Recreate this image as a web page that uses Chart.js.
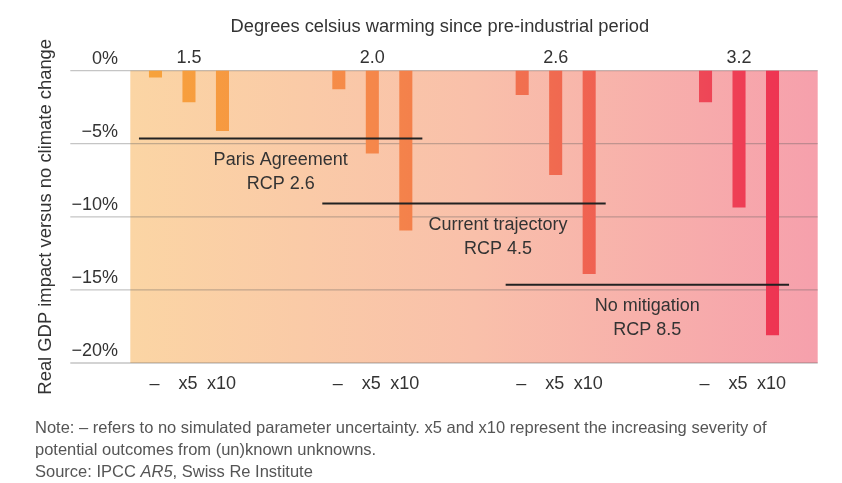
<!DOCTYPE html>
<html>
<head>
<meta charset="utf-8">
<script src="https://cdn.jsdelivr.net/npm/chart.js@4.4.1/dist/chart.umd.min.js"></script>
<style>
  html, body { margin: 0; padding: 0; background: #ffffff; }
  #wrap { position: relative; width: 842px; height: 483px; }
  #note {
    position: absolute; left: 35px; top: 416px;
    font-family: "Liberation Sans", Arial, sans-serif; font-size: 16.5px;
    line-height: 22px; color: #555555; white-space: nowrap;
  }
</style>
</head>
<body>
<div id="wrap">
  <canvas id="c" width="842" height="483"></canvas>
  <div id="note">Note: – refers to no simulated parameter uncertainty. x5 and x10 represent the increasing severity of<br>potential outcomes from (un)known unknowns.<br>Source: IPCC <i>AR5</i>, Swiss Re Institute</div>
</div>
<script>
// ---- data ----
const categories = ['1.5', '2.0', '2.6', '3.2'];
const severityLabels = ['–', 'x5', 'x10'];
const impactNone = [-0.47, -1.27, -1.67, -2.17];
const impactX5 = [-2.17, -5.67, -7.14, -9.36];
const impactX10 = [-4.14, -10.94, -13.92, -18.1];
const yTickValues = [0, -5, -10, -15, -20];
const scenarioNames = ['Paris Agreement', 'Current trajectory', 'No mitigation'];
const scenarioRcp = ['RCP 2.6', 'RCP 4.5', 'RCP 8.5'];
const scenarioValues = [-4.65, -9.1, -14.65];
const scenarioFromGroup = [0, 1, 2];
const scenarioToGroup = [1, 2, 3];

const FONT = '"Liberation Sans", Arial, sans-serif';
const TEXT = '#333333';

function barGradient(context) {
  const chart = context.chart;
  const a = chart.chartArea;
  if (!a) return '#F5874A';
  const g = chart.ctx.createLinearGradient(a.left, 0, a.right, 0);
  g.addColorStop(0.0, '#F8A83A');
  g.addColorStop(0.079, '#F7A23C');
  g.addColorStop(0.375, '#F5874A');
  g.addColorStop(0.625, '#F06A50');
  g.addColorStop(0.829, '#EE4757');
  g.addColorStop(0.92, '#EE3552');
  g.addColorStop(1.0, '#EE3050');
  return g;
}

const decorPlugin = {
  id: 'decor',
  beforeDatasetsDraw(chart) {
    const { ctx, chartArea: a, scales: { y } } = chart;
    const left = a.left + 33, right = a.right - 13;
    ctx.save();
    const g = ctx.createLinearGradient(left, 0, right, 0);
    g.addColorStop(0, '#FBD5A4');
    g.addColorStop(0.5, '#F9C0AA');
    g.addColorStop(1, '#F6A0AC');
    ctx.fillStyle = g;
    ctx.fillRect(left, a.top, right - left, a.bottom - a.top);
    ctx.strokeStyle = 'rgba(95,95,95,0.36)';
    ctx.lineWidth = 1.3;
    y.ticks.forEach(t => {
      const py = y.getPixelForValue(t.value);
      ctx.beginPath();
      ctx.moveTo(a.left - 27, py);
      ctx.lineTo(right, py);
      ctx.stroke();
    });
    ctx.restore();
  },
  afterDatasetsDraw(chart) {
    const { ctx, chartArea: a, scales: { y } } = chart;
    const shift = [0, 34, 0];
    ctx.save();
    // severity labels under every bar
    ctx.fillStyle = TEXT;
    ctx.font = '18px ' + FONT;
    ctx.textAlign = 'center';
    ctx.textBaseline = 'middle';
    chart.data.datasets.forEach((ds, d) => {
      chart.getDatasetMeta(d).data.forEach(bar => {
        ctx.fillText(severityLabels[d], bar.x - 1, a.bottom + 21);
      });
    });
    // scenario lines + labels
    scenarioValues.forEach((v, s) => {
      const b0 = chart.getDatasetMeta(0).data[scenarioFromGroup[s]];
      const b1 = chart.getDatasetMeta(2).data[scenarioToGroup[s]];
      const x0 = b0.x - b0.width / 2 - 10;
      const x1 = b1.x + b1.width / 2 + 10;
      const py = y.getPixelForValue(v);
      ctx.strokeStyle = '#222222';
      ctx.lineWidth = 2;
      ctx.beginPath();
      ctx.moveTo(x0, py);
      ctx.lineTo(x1, py);
      ctx.stroke();
      const cx = (x0 + x1) / 2 + shift[s];
      ctx.fillStyle = TEXT;
      ctx.fillText(scenarioNames[s], cx, py + 21);
      ctx.fillText(scenarioRcp[s], cx, py + 45);
    });
    ctx.restore();
  }
};

new Chart(document.getElementById('c'), {
  type: 'bar',
  data: {
    labels: categories,
    datasets: [
      { label: severityLabels[0], data: impactNone, backgroundColor: barGradient },
      { label: severityLabels[1], data: impactX5, backgroundColor: barGradient },
      { label: severityLabels[2], data: impactX10, backgroundColor: barGradient }
    ]
  },
  options: {
    responsive: false,
    animation: false,
    devicePixelRatio: 1,
    categoryPercentage: 0.548,
    barPercentage: 0.39,
    layout: { padding: { left: 49, right: 11.3, top: 0, bottom: 120 } },
    plugins: {
      legend: { display: false },
      tooltip: { enabled: false },
      title: {
        display: true,
        text: 'Degrees celsius warming since pre-industrial period',
        color: TEXT,
        font: { family: FONT, size: 18.3, weight: 'normal' },
        padding: { top: 16, bottom: 7 }
      }
    },
    scales: {
      x: {
        position: 'top',
        grid: { display: false, drawTicks: false },
        border: { display: false },
        ticks: { color: TEXT, font: { family: FONT, size: 18 }, padding: 2 }
      },
      y: {
        min: -20, max: 0,
        afterBuildTicks: s => { s.ticks = yTickValues.map(v => ({ value: v })); },
        afterFit: s => { s.width = 48.3; },
        grid: { display: false, drawTicks: false },
        border: { display: false },
        ticks: {
          color: TEXT,
          font: { family: FONT, size: 18 },
          mirror: true,
          crossAlign: 'far',
          padding: -25.8,
          labelOffset: -12,
          callback: v => (v === 0 ? '0%' : '\u2212' + Math.abs(v) + '%')
        },
        title: {
          display: true,
          text: 'Real GDP impact versus no climate change',
          color: TEXT,
          font: { family: FONT, size: 18.4 },
          padding: { top: -14, bottom: 0 }
        }
      }
    }
  },
  plugins: [decorPlugin]
});
</script>
</body>
</html>
